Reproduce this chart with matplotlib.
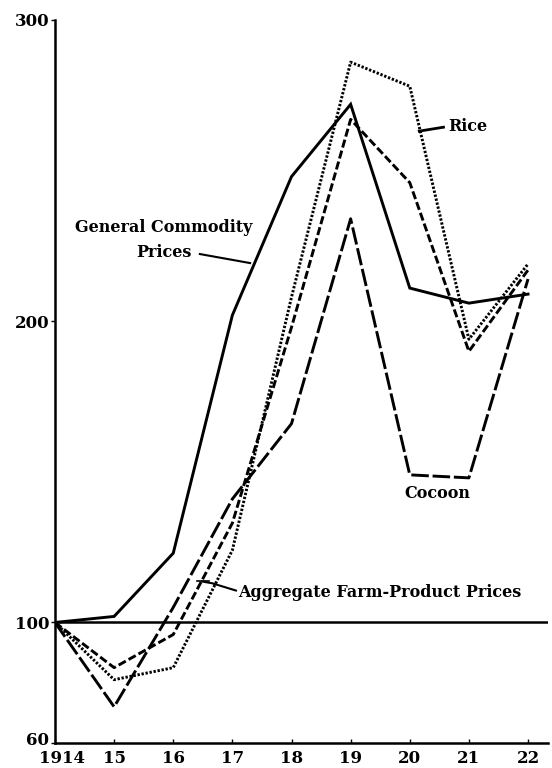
import matplotlib
matplotlib.use("Agg")
import matplotlib.pyplot as plt
import matplotlib.transforms as mtransforms

years = [1914, 1915, 1916, 1917, 1918, 1919, 1920, 1921, 1922]
xtick_labels = ["1914", "15", "16", "17", "18", "19", "20", "21", "22"]
yticks = [60, 100, 200, 300]

general = [100, 102, 123, 202, 248, 272, 211, 206, 209]
rice = [100, 81, 85, 124, 208, 286, 278, 194, 219]
aggregate = [100, 85, 96, 133, 198, 267, 246, 190, 217]
cocoon = [100, 72, 105, 141, 166, 234, 149, 148, 214]

fig = plt.figure(figsize=(5.52, 7.68), dpi=100)
ax = fig.add_axes([0.0996, 0.0326, 0.8934, 0.9414])
ax.set_xlim(1914, 1922.34)
ax.set_ylim(60, 300)

lw = 2.1
ax.plot(years, general, color="black", lw=lw, solid_joinstyle="miter")
ax.plot(years, rice, color="black", lw=lw, linestyle=(0, (0.8, 0.6)))
ax.plot(years, aggregate, color="black", lw=lw, linestyle=(0, (2.8, 1.1)))
ax.plot(years, cocoon, color="black", lw=lw, linestyle=(0, (6.0, 1.3)))

ax.axhline(100, color="black", lw=1.8)

for s in ["top", "right"]:
    ax.spines[s].set_visible(False)
ax.spines["left"].set_linewidth(1.8)
ax.spines["bottom"].set_linewidth(1.8)

font = dict(family="DejaVu Serif", weight="bold")
ax.set_xticks(years)
ax.set_xticklabels(xtick_labels, fontsize=12, **font)
ax.set_yticks(yticks)
ax.set_yticklabels([str(v) for v in yticks], fontsize=12, **font)
ax.tick_params(axis="x", direction="in", length=3, width=1, pad=5)
ax.tick_params(axis="y", direction="out", length=3, width=1, pad=1)

# shift the first x label slightly right and the "60" label slightly up, as in the print
first = ax.get_xticklabels()[0]
first.set_transform(first.get_transform() + mtransforms.ScaledTranslation(7 / 100, 0, fig.dpi_scale_trans))
low = ax.get_yticklabels()[0]
low.set_transform(low.get_transform() + mtransforms.ScaledTranslation(0, 4 / 100, fig.dpi_scale_trans))

tf = dict(fontsize=11.5, color="black", **font)
ax.text(1915.84, 231.2, "General Commodity", ha="center", va="center", **tf)
ax.text(1915.84, 222.9, "Prices", ha="center", va="center", **tf)
ax.plot([1916.45, 1917.30], [222.3, 219.3], color="black", lw=1.5)

ax.text(1920.65, 264.8, "Rice", ha="left", va="center", **tf)
ax.plot([1920.16, 1920.57], [263.1, 264.4], color="black", lw=2)

ax.text(1920.46, 142.9, "Cocoon", ha="center", va="center", **tf)

ax.text(1917.10, 110.0, "Aggregate Farm-Product Prices", ha="left", va="center", **tf)
ax.plot([1917.06, 1916.66, 1916.49], [110.6, 113.0, 113.6], color="black", lw=1.5)
ax.plot([1916.40, 1916.60], [113.6, 113.6], color="black", lw=1.2)

fig.savefig("out.png", dpi=100)
